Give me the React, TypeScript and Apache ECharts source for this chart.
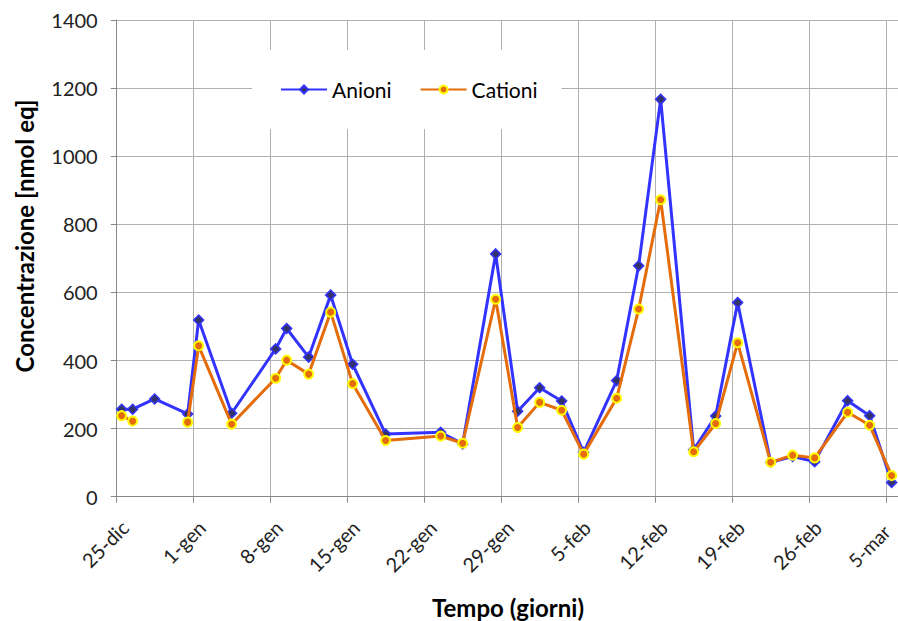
import React, { useEffect, useRef } from 'react';
import * as echarts from 'echarts';

// days after 25-dic (sample times)
const days = [0.45, 1.45, 3.45, 6.45, 7.45, 10.45, 14.45, 15.45, 17.45, 19.45, 21.45, 24.45, 29.45, 31.45, 34.45, 36.45, 38.45, 40.45, 42.45, 45.45, 47.45, 49.45, 52.45, 54.45, 56.45, 59.45, 61.45, 63.45, 66.45, 68.45, 70.45];
const anioni = [257, 257, 287, 243, 519, 245, 434, 494, 410, 592, 389, 184, 189, 155, 713, 251, 320, 281, 130, 341, 678, 1167, 138, 237, 570, 101, 118, 103, 282, 238, 42];
const cationi = [238, 222, null, 219, 443, 213, 348, 401, 360, 542, 332, 165, 178, 157, 580, 203, 277, 254, 125, 289, 551, 872, 132, 215, 452, 101, 122, 114, 248, 210, 62];
const tickLabels = ['25-dic', '1-gen', '8-gen', '15-gen', '22-gen', '29-gen', '5-feb', '12-feb', '19-feb', '26-feb', '5-mar'];

const FONT = 'Lato, "Open Sans", sans-serif';
const PX_PER_DAY = 11.0;

export default function App() {
  const ref = useRef<HTMLDivElement>(null);
  useEffect(() => {
    const chart = echarts.init(ref.current!, null, { renderer: 'svg' });
    chart.setOption({
      animation: false,
      backgroundColor: '#fff',
      grid: {
        left: 116.7,
        top: 20,
        width: PX_PER_DAY * 77,
        height: 476.7,
        containLabel: false,
        outerBoundsMode: 'none',
      },
      legend: {
        data: ['Anioni', 'Cationi'],
        left: 252,
        top: 50,
        padding: [29, 24, 29, 28],
        backgroundColor: '#fff',
        itemWidth: 46,
        itemHeight: 10,
        itemGap: 28,
        textStyle: { fontSize: 21, fontFamily: FONT, color: '#000' },
      },
      xAxis: {
        type: 'value',
        min: 0,
        max: 77,
        interval: 7,
        axisLine: { show: true, lineStyle: { color: '#888', width: 1 } },
        axisTick: { show: true, length: 6, lineStyle: { color: '#888' } },
        splitLine: { show: true, lineStyle: { color: '#b0b0b0', width: 1 } },
        axisLabel: {
          rotate: 45,
          margin: 19,
          verticalAlign: 'top',
          lineHeight: 23,
          fontSize: 20,
          fontFamily: FONT,
          color: '#222',
          formatter: (v: number) => {
            if (Math.abs(v % 7) > 1e-6) return '';
            const i = Math.round(v / 7);
            const t = tickLabels[i] ?? '';
            if (!t) return '';
            return i === tickLabels.length - 1 ? `{last|${t}}` : t;
          },
          rich: {
            last: { fontSize: 19, fontFamily: FONT, color: '#222', lineHeight: 18, padding: [0, 9, 0, 0] },
          },
        },
      },
      yAxis: {
        type: 'value',
        min: 0,
        max: 1400,
        interval: 200,
        axisLine: { show: true, lineStyle: { color: '#888', width: 1 } },
        axisTick: { show: true, length: 6, lineStyle: { color: '#888' } },
        splitLine: { show: true, lineStyle: { color: '#b0b0b0', width: 1 } },
        axisLabel: {
          margin: 19,
          fontSize: 20,
          fontFamily: FONT,
          color: '#222',
          formatter: (v: number) => String(v),
        },
      },
      graphic: [
        {
          type: 'text',
          x: 24,
          y: 236,
          rotation: Math.PI / 2,
          style: {
            text: 'Concentrazione [nmol eq]',
            font: `bold 24px ${FONT}`,
            fill: '#000',
            align: 'center',
            verticalAlign: 'middle',
          },
        },
        {
          type: 'text',
          x: 508,
          y: 607,
          style: {
            text: 'Tempo (giorni)',
            font: `bold 24px ${FONT}`,
            fill: '#000',
            align: 'center',
            verticalAlign: 'middle',
          },
        },
      ],
      series: [
        {
          name: 'Anioni',
          type: 'line',
          data: days.map((d, i) => [d, anioni[i]]),
          symbol: 'diamond',
          symbolSize: 10,
          lineStyle: { color: '#3333FF', width: 3 },
          itemStyle: { color: '#33336B', borderColor: '#3333FF', borderWidth: 1.5 },
          z: 2,
        },
        {
          name: 'Cationi',
          type: 'line',
          data: days.map((d, i) => [d, cationi[i]]),
          connectNulls: false,
          symbol: 'circle',
          symbolSize: 9,
          lineStyle: { color: '#E46C0A', width: 3 },
          itemStyle: { color: '#E46C0A', borderColor: '#FFFF00', borderWidth: 2 },
          z: 3,
        },
      ],
    });
    return () => chart.dispose();
  }, []);
  return <div ref={ref} style={{ position: 'absolute', left: 0, top: 0, width: 898, height: 621 }} />;
}
